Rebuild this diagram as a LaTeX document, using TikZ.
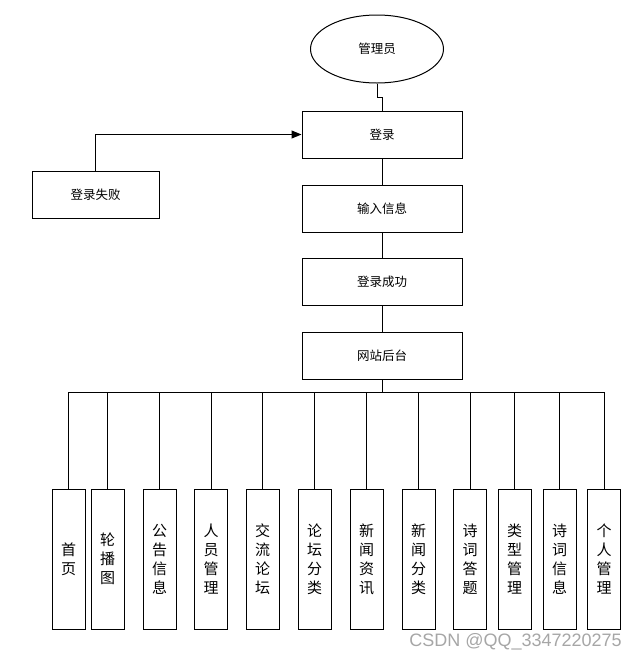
\documentclass[tikz,border=0pt]{standalone}
\usepackage{fontspec}
\setmainfont{Noto Sans CJK SC}
\newfontfamily\wmfont{Liberation Sans}
\usetikzlibrary{shapes.geometric,arrows.meta}
\tikzset{
  box/.style={draw=black, line width=1pt, minimum width=160pt, minimum height=47pt, inner sep=0pt, font=\fontsize{12.5}{15}\selectfont},
  smallbox/.style={draw=black, line width=1pt, minimum width=33pt, minimum height=140pt, inner sep=0pt, align=center, font=\fontsize{15}{19}\selectfont},
  conn/.style={draw=black, line width=1pt},
}
\begin{document}
\begin{tikzpicture}[x=1pt,y=-1pt]
\useasboundingbox (0,0) rectangle (638,662);
\node[ellipse, draw=black, line width=1pt, minimum width=133pt, minimum height=68pt, inner sep=0pt, font=\fontsize{12.5}{15}\selectfont] (admin) at (377,49) {管理员};
\node[box] (login) at (382,134.5) {登录};
\node[box, minimum width=127pt] (fail) at (95.5,194.5) {登录失败};
\node[box] (input) at (382,208.5) {输入信息};
\node[box] (succ) at (382,281.5) {登录成功};
\node[box] (back) at (382,355.5) {网站后台};

\node[smallbox] (m1) at (68.5,559) {首\\页};
\node[smallbox] (m2) at (107.5,559) {轮\\播\\图};
\node[smallbox] (m3) at (159.5,559) {公\\告\\信\\息};
\node[smallbox] (m4) at (211,559) {人\\员\\管\\理};
\node[smallbox] (m5) at (262.5,559) {交\\流\\论\\坛};
\node[smallbox] (m6) at (314.5,559) {论\\坛\\分\\类};
\node[smallbox] (m7) at (366.5,559) {新\\闻\\资\\讯};
\node[smallbox] (m8) at (418.5,559) {新\\闻\\分\\类};
\node[smallbox] (m9) at (470,559) {诗\\词\\答\\题};
\node[smallbox] (m10) at (514.5,559) {类\\型\\管\\理};
\node[smallbox] (m11) at (559.5,559) {诗\\词\\信\\息};
\node[smallbox] (m12) at (604,559) {个\\人\\管\\理};

\coordinate (bus) at (0,392);
\draw[conn] (admin.south) -- ++(0,14) -| (login.north);
\draw[conn] (login.south) -- (input.north);
\draw[conn] (input.south) -- (succ.north);
\draw[conn] (succ.south) -- (back.north);
\draw[conn, -{Triangle[length=10pt,width=8pt]}] (fail.north) |- (login.west);
\draw[conn] (back.south) -- (back.south |- bus);
\draw[conn] (m1.north |- bus) -- (m12.north |- bus);
\foreach \i in {1,...,12}{
  \draw[conn] (m\i.north |- bus) -- (m\i.north);
}
\node[font=\wmfont\fontsize{18}{20}\selectfont, text=black!35, anchor=east, inner sep=0pt] (wm) at (622,642) {CSDN @QQ\_3347220275};
\end{tikzpicture}
\end{document}
